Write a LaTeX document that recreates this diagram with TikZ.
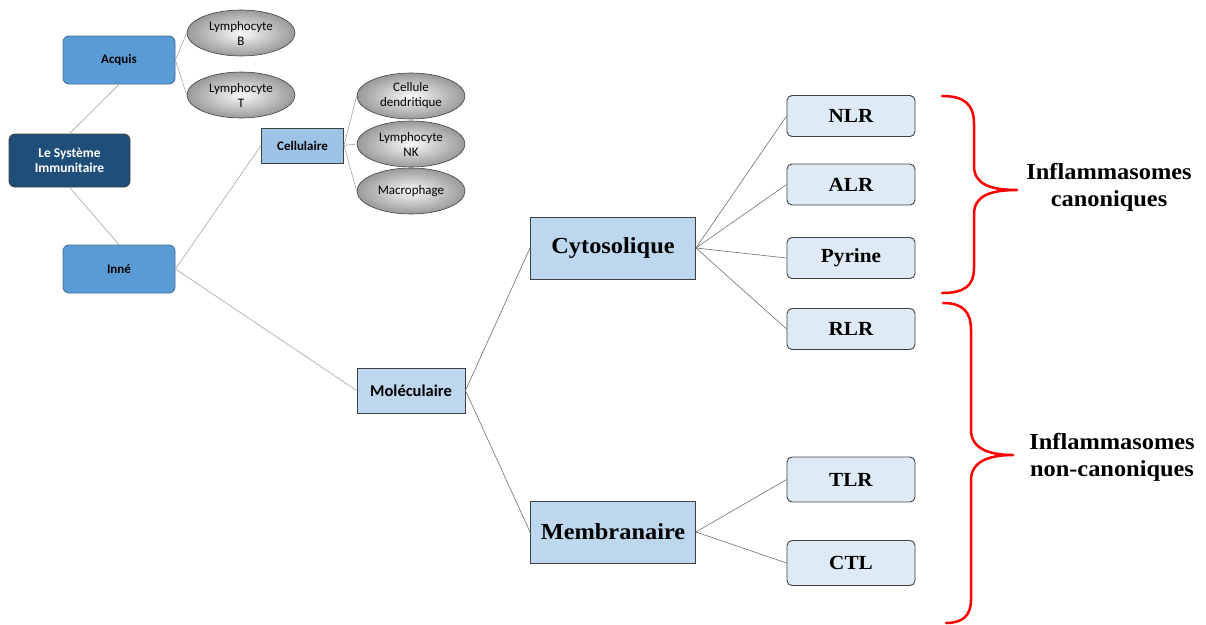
\documentclass[tikz,border=0pt]{standalone}
\usepackage{fontspec}
\setmainfont{Carlito}
\newfontfamily\cam[FakeStretch=1.06]{Liberation Serif}
\usetikzlibrary{shapes.geometric}
\definecolor{midblue}{HTML}{5B9BD5}
\definecolor{midblueline}{HTML}{3F6E9A}
\definecolor{darkblue}{HTML}{1F4E79}
\definecolor{cellblue}{HTML}{9DC3E6}
\definecolor{molblue}{HTML}{BDD7EE}
\definecolor{paleblue}{HTML}{DEEBF7}
\definecolor{boxline}{HTML}{404040}
\definecolor{lightlink}{HTML}{A6A6A6}
\definecolor{darklink}{HTML}{6E6E6E}
\begin{document}
\begin{tikzpicture}[x=1pt,y=-1pt,
  leftbox/.style={draw=midblueline, fill=midblue, rounded corners=6pt, line width=0.8pt,
    minimum width=112pt, minimum height=48pt, inner sep=0pt, font=\bfseries\fontsize{13}{15}\selectfont},
  rootbox/.style={draw=boxline, fill=darkblue, text=white, rounded corners=6pt, line width=0.8pt,
    minimum width=121pt, minimum height=53pt, inner sep=0pt, align=center, font=\bfseries\fontsize{13.5}{15}\selectfont},
  cellell/.style={ellipse, draw=boxline, line width=0.6pt, shading=radial, inner color=gray!4, outer color=gray!80,
    minimum width=108pt, minimum height=46pt, inner sep=0pt, align=center, font=\fontsize{13}{15}\selectfont},
  sqbox/.style={draw=boxline, line width=0.9pt, inner sep=0pt},
  rbox/.style={draw=boxline, fill=paleblue, rounded corners=5pt, line width=0.9pt,
    minimum width=128pt, minimum height=41pt, inner sep=0pt, font=\cam\bfseries\fontsize{20}{24}\selectfont},
  lnk/.style={draw=lightlink, line width=0.6pt},
  dlnk/.style={draw=darklink, line width=0.6pt},
  redbrace/.style={draw=red, line width=2.5pt, line cap=round, line join=round},
  lbl/.style={align=center, font=\cam\bfseries\fontsize{23}{27}\selectfont}
]
\useasboundingbox (0,0) rectangle (1206,624);

% left part
\node[rootbox] (sys) at (69.5,160.5) {Le Système\\Immunitaire};
\node[leftbox] (acq) at (119,60) {Acquis};
\node[leftbox] (inn) at (119,269) {Inné};
\node[cellell] (lb) at (241,33) {Lymphocyte\\B};
\node[cellell] (lt) at (241,95) {Lymphocyte\\T};
\node[sqbox, fill=cellblue, minimum width=82pt, minimum height=35pt, font=\bfseries\fontsize{13}{15}\selectfont] (cel) at (302.5,145.5) {Cellulaire};
\node[cellell] (cd) at (411,96) {Cellule\\dendritique};
\node[cellell] (nk) at (411,144) {Lymphocyte\\NK};
\node[cellell] (mac) at (411,191) {Macrophage};
\node[sqbox, fill=molblue, minimum width=108pt, minimum height=45pt, font=\bfseries\fontsize{16.5}{19}\selectfont] (mol) at (411,390.5) {Moléculaire};

% middle part
\node[sqbox, fill=molblue, minimum width=165pt, minimum height=62pt, font=\cam\bfseries\fontsize{23}{26}\selectfont] (cyt) at (613,248) {Cytosolique};
\node[sqbox, fill=molblue, minimum width=165pt, minimum height=62pt, font=\cam\bfseries\fontsize{23}{26}\selectfont] (mem) at (613,532) {Membranaire};

% right boxes
\node[rbox] (nlr) at (851,116) {NLR};
\node[rbox] (alr) at (851,184.5) {ALR};
\node[rbox] (pyr) at (851,258) {Pyrine};
\node[rbox] (rlr) at (851,329) {RLR};
\node[rbox, minimum height=45pt] (tlr) at (851,479.5) {TLR};
\node[rbox, minimum height=45pt] (ctl) at (851,563) {CTL};

% connectors
\draw[lnk] (acq.south) -- (sys.north);
\draw[lnk] (sys.south) -- (inn.north);
\draw[lnk] (acq.east) -- (lb.west);
\draw[lnk] (acq.east) -- (lt.west);
\draw[lnk] (inn.east) -- (cel.west);
\draw[lnk] (inn.east) -- (mol.west);
\draw[lnk] (cel.east) -- (cd.west);
\draw[lnk] (cel.east) -- (nk.west);
\draw[lnk] (cel.east) -- (mac.west);
\draw[dlnk] (mol.east) -- (cyt.west);
\draw[dlnk] (mol.east) -- (mem.west);
\draw[dlnk] (cyt.east) -- (nlr.west);
\draw[dlnk] (cyt.east) -- (alr.west);
\draw[dlnk] (cyt.east) -- (pyr.west);
\draw[dlnk] (cyt.east) -- (rlr.west);
\draw[dlnk] (mem.east) -- (tlr.west);
\draw[dlnk] (mem.east) -- (ctl.west);

% braces
\coordinate (b1tip) at (1017,190);
\coordinate (b2tip) at (1013,455);
\draw[redbrace] (942,96) .. controls (964,96) and (974,104) .. (974,124)
  -- (974,166) .. controls (974,184) and (990,190) .. (b1tip)
  .. controls (990,190) and (974,196) .. (974,214)
  -- (974,268) .. controls (974,286) and (964,293) .. (942,293);
\draw[redbrace] (943,303) .. controls (963,303) and (971,312) .. (971,330)
  -- (971,430) .. controls (971,448) and (988,455) .. (b2tip)
  .. controls (988,455) and (971,462) .. (971,480)
  -- (971,600) .. controls (971,616) and (962,623) .. (946,623);

% labels
\node[lbl] (can) at (1109,187) {Inflammasomes\\canoniques};
\node[lbl] (ncan) at (1112,457) {Inflammasomes\\non-canoniques};
\end{tikzpicture}
\end{document}
